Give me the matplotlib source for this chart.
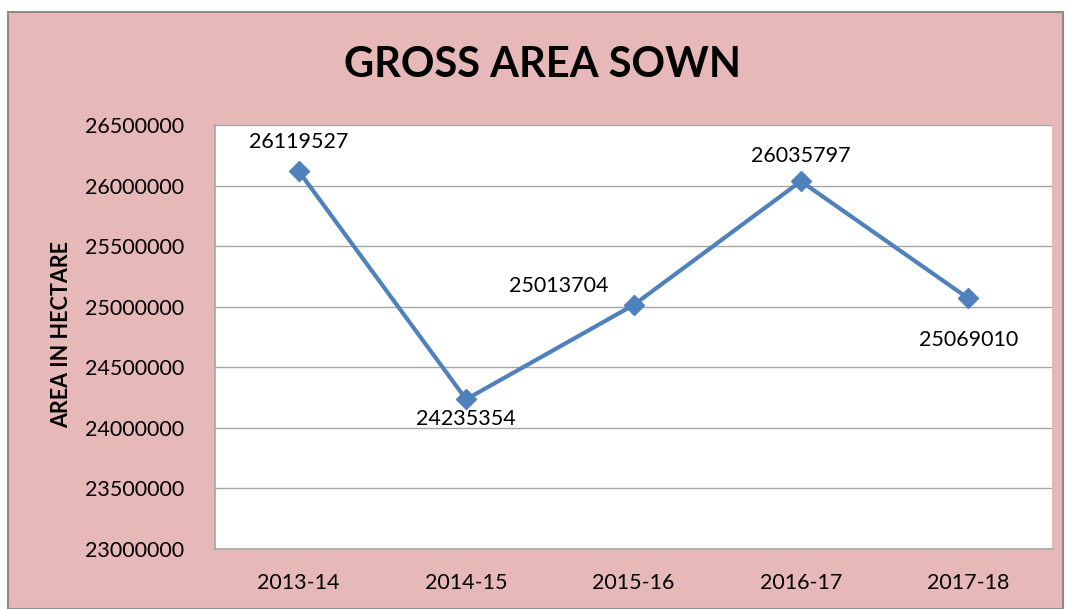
import matplotlib.pyplot as plt
from matplotlib.patches import Rectangle

# data
years = ['2013-14', '2014-15', '2015-16', '2016-17', '2017-18']
area = [26119527, 24235354, 25013704, 26035797, 25069010]

pink = '#E6B8B7'
blue = '#4F81BD'

plt.rcParams['font.family'] = ['Lato', 'DejaVu Sans']

fig = plt.figure(figsize=(10.67, 6.09), dpi=100)
fig.patch.set_facecolor('white')
fig.patches.append(Rectangle((8 / 1067, 0), 1055 / 1067, 1 - 12 / 609, transform=fig.transFigure,
                             facecolor=pink, edgecolor='#8C8C8C', linewidth=1.5, zorder=-1))

ax = fig.add_axes([215 / 1067, 1 - 549 / 609, 837 / 1067, 424 / 609])
ax.set_facecolor('white')
ax.set_zorder(1)

x = list(range(len(years)))
ax.plot(x, area, color=blue, linewidth=3, marker='D', markersize=10, zorder=3)

ax.set_xlim(-0.5, 4.5)
ax.set_ylim(23000000, 26500000)
ax.set_yticks(range(23000000, 26500001, 500000))
ax.set_yticklabels([str(v) for v in range(23000000, 26500001, 500000)])
ax.set_xticks(x)
ax.set_xticklabels(years)
ax.tick_params(axis='both', length=0, labelsize=15.5, colors='black')
ax.tick_params(axis='y', pad=22)
ax.tick_params(axis='x', pad=17)
ax.yaxis.grid(True, color='#A6A6A6', linewidth=1)
ax.set_axisbelow(True)
for s in ['top', 'right']:
    ax.spines[s].set_visible(False)
for s in ['left', 'bottom']:
    ax.spines[s].set_color('#A6A6A6')
    ax.spines[s].set_linewidth(1.2)

# data labels
offsets = [(0, 21), (0, -14), (-54, 14), (0, 18), (0, -30)]
for xi, v, off in zip(x, area, offsets):
    ax.annotate(str(v), (xi, v), xytext=off, textcoords='offset points',
                ha='center', va='center', fontsize=15.5)

fig.text(543 / 1067, 1 - 65 / 609, 'GROSS AREA SOWN', ha='center', va='center',
         fontsize=30, fontweight='bold')
fig.text(62 / 1067, 1 - 335 / 609, 'AREA IN HECTARE', ha='center', va='center',
         rotation=90, fontsize=15.5, fontweight='bold')

fig.savefig('out.png', dpi=100)
